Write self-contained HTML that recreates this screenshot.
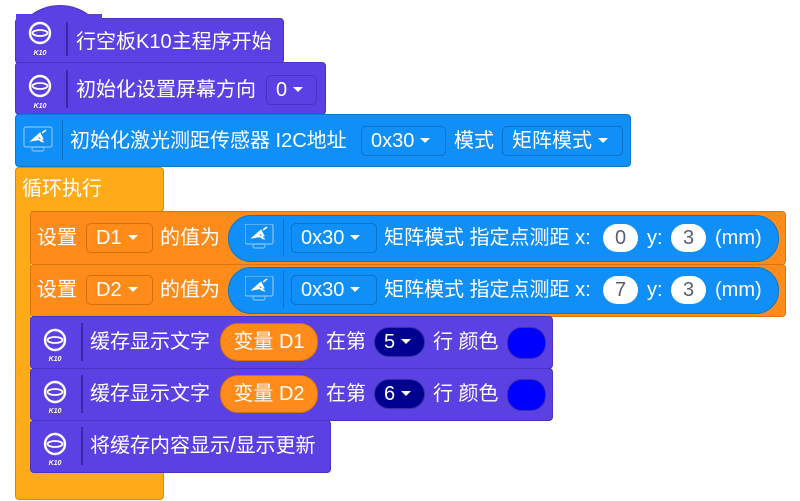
<!DOCTYPE html>
<html><head><meta charset="utf-8"><style>
body{margin:0;width:800px;height:501px;background:#fff;position:relative;overflow:hidden;font-family:"Liberation Sans","Noto Sans CJK SC",sans-serif;font-size:20px;color:#fff}
.a{position:absolute}
.b{position:absolute;border-radius:4px}
.p{background:#5b40e4;border:1px solid #4a33c4}
.bl{background:#0f8ff7;border:1px solid #0b78d0}
.o{background:#ff8c1a;border:1px solid #db7410}
.lp{background:#ffab19;border:1px solid #cf8b17}
.t{position:absolute;white-space:nowrap;line-height:20px}
.dd{position:absolute;border-radius:5px;box-sizing:border-box;line-height:28px;white-space:nowrap;padding-left:9px}
.dp{border:1px solid #4733c2;background:#5b40e4}
.db{border:1px solid #0b72c8;background:#0f8ff7}
.do{border:1px solid #d6700f;background:#ff8c1a}
.tri{display:inline-block;width:0;height:0;border-left:5px solid transparent;border-right:5px solid transparent;border-top:5px solid #fff;vertical-align:middle;margin-left:6px;position:relative;top:-1px}
.sep{position:absolute;width:2px;background:#3a28a8}
.sepb{position:absolute;width:1px;background:#0a6cc0}
.wo{position:absolute;background:#fff;border-radius:15px;color:#575e75;text-align:center;line-height:28px;height:28px}
</style></head><body>

<div class="a p" style="left:15px;top:5px;width:88px;height:40px;border-radius:50% 50% 0 0/100% 100% 0 0;border-bottom:none"></div>
<div class="b p" style="left:15px;top:18px;width:267px;height:44px"></div>
<div class="a" style="left:16px;top:14px;width:86px;height:10px;background:#5b40e4"></div>

<div class="b p" style="left:15px;top:62px;width:309px;height:51px"></div>
<div class="b bl" style="left:15px;top:114px;width:614px;height:51px"></div>

<div class="b lp" style="left:15px;top:167px;width:147px;height:43px"></div>
<div class="a" style="left:15px;top:200px;width:15px;height:280px;background:#ffab19;border-left:1px solid #cf8b17"></div>
<div class="b lp" style="left:15px;top:470px;width:147px;height:29px;border-top:none;border-radius:0 0 4px 4px"></div>

<div class="b o" style="left:30px;top:211px;width:754px;height:52px"></div>
<div class="b o" style="left:30px;top:264px;width:754px;height:51px"></div>
<div class="b p" style="left:30px;top:316px;width:521px;height:51px"></div>
<div class="b p" style="left:30px;top:368px;width:521px;height:51px"></div>
<div class="b p" style="left:30px;top:420px;width:299px;height:51px"></div>

<svg class="a" style="left:0;top:0" width="800" height="501">
<defs>
<g id="k"><ellipse cx="0" cy="0" rx="10" ry="10" fill="none" stroke="#fff" stroke-width="2.4"/><ellipse cx="0" cy="0" rx="7.5" ry="3" fill="none" stroke="#fff" stroke-width="1.8"/></g>
<g id="ic"><rect x="0" y="0" width="28" height="20" rx="2" fill="none" stroke="#7fc2ff" stroke-width="1.3"/><path d="M7 14 L16 6 L19 12 Z M14 9 a6 6 0 0 0 6 6" fill="#fff" stroke="#fff" stroke-width="1"/><line x1="18" y1="6" x2="22" y2="3" stroke="#fff" stroke-width="1.5"/><rect x="8" y="20" width="12" height="4" rx="2" fill="none" stroke="#7fc2ff" stroke-width="1.2"/></g>
</defs>
<use href="#k" x="40" y="33"/><text x="40" y="55" font-size="7" font-style="italic" font-weight="bold" fill="#fff" text-anchor="middle" font-family="Liberation Sans">K10</text>
<use href="#k" x="40" y="86"/><text x="40" y="108" font-size="7" font-style="italic" font-weight="bold" fill="#fff" text-anchor="middle" font-family="Liberation Sans">K10</text>
<use href="#k" x="55" y="340"/><text x="55" y="361" font-size="7" font-style="italic" font-weight="bold" fill="#fff" text-anchor="middle" font-family="Liberation Sans">K10</text>
<use href="#k" x="55" y="392"/><text x="55" y="413" font-size="7" font-style="italic" font-weight="bold" fill="#fff" text-anchor="middle" font-family="Liberation Sans">K10</text>
<use href="#k" x="55" y="444"/><text x="55" y="465" font-size="7" font-style="italic" font-weight="bold" fill="#fff" text-anchor="middle" font-family="Liberation Sans">K10</text>
<use href="#ic" x="24" y="127"/>
</svg>
<div class="sep" style="left:66px;top:22px;height:34px"></div>
<div class="sep" style="left:66px;top:70px;height:38px"></div>
<div class="sepb" style="left:62px;top:120px;height:40px"></div>
<div class="sep" style="left:81px;top:323px;height:38px"></div>
<div class="sep" style="left:81px;top:375px;height:38px"></div>
<div class="sep" style="left:81px;top:427px;height:38px"></div>

<div class="t" style="left:76px;top:32px">行空板K10主程序开始</div>
<div class="t" style="left:76px;top:80px">初始化设置屏幕方向</div>
<div class="dd dp" style="left:266px;top:75px;width:51px;height:30px">0<span class="tri"></span></div>

<div class="t" style="left:70px;top:131px">初始化激光测距传感器 I2C地址</div>
<div class="dd db" style="left:361px;top:126px;width:85px;height:30px">0x30<span class="tri"></span></div>
<div class="t" style="left:454px;top:131px">模式</div>
<div class="dd db" style="left:502px;top:126px;width:121px;height:30px">矩阵模式<span class="tri"></span></div>

<div class="t" style="left:22px;top:179px">循环执行</div>

<div class="t" style="left:37px;top:228px">设置</div>
<div class="dd do" style="left:86px;top:223px;width:67px;height:30px">D1<span class="tri"></span></div>
<div class="t" style="left:160px;top:228px">的值为</div>
<div class="a bl" style="left:228px;top:215px;width:549px;height:45px;border-radius:23px"></div>
<svg class="a" style="left:245px;top:224px" width="30" height="26"><use href="#ic"/></svg>
<div class="sepb" style="left:283px;top:219px;height:37px"></div>
<div class="dd db" style="left:291px;top:223px;width:86px;height:30px">0x30<span class="tri"></span></div>
<div class="t" style="left:384px;top:228px">矩阵模式 指定点测距 x:</div>
<div class="wo" style="left:603px;top:224px;width:35px">0</div>
<div class="t" style="left:647px;top:228px">y:</div>
<div class="wo" style="left:671px;top:224px;width:35px">3</div>
<div class="t" style="left:715px;top:228px">(mm)</div>

<div class="t" style="left:37px;top:280px">设置</div>
<div class="dd do" style="left:86px;top:275px;width:67px;height:30px">D2<span class="tri"></span></div>
<div class="t" style="left:160px;top:280px">的值为</div>
<div class="a bl" style="left:228px;top:267px;width:549px;height:45px;border-radius:23px"></div>
<svg class="a" style="left:245px;top:276px" width="30" height="26"><use href="#ic"/></svg>
<div class="sepb" style="left:283px;top:271px;height:37px"></div>
<div class="dd db" style="left:291px;top:275px;width:86px;height:30px">0x30<span class="tri"></span></div>
<div class="t" style="left:384px;top:280px">矩阵模式 指定点测距 x:</div>
<div class="wo" style="left:603px;top:276px;width:35px">7</div>
<div class="t" style="left:647px;top:280px">y:</div>
<div class="wo" style="left:671px;top:276px;width:35px">3</div>
<div class="t" style="left:715px;top:280px">(mm)</div>

<div class="t" style="left:90px;top:332px">缓存显示文字</div>
<div class="a" style="left:220px;top:323px;width:96px;height:36px;border-radius:18px;background:#ff8c1a;border:1px solid #d6700f;line-height:36px;text-align:center;white-space:nowrap">变量 D1</div>
<div class="t" style="left:326px;top:332px">在第</div>
<div class="dd" style="left:374px;top:327px;width:51px;height:30px;border-radius:15px;background:#000090;border:1px solid #3b2fa0">5<span class="tri"></span></div>
<div class="t" style="left:433px;top:332px">行 颜色</div>
<div class="a" style="left:507px;top:327px;width:37px;height:30px;border-radius:15px;background:#0000ff;border:1px solid #3a30b0"></div>

<div class="t" style="left:90px;top:384px">缓存显示文字</div>
<div class="a" style="left:220px;top:375px;width:96px;height:36px;border-radius:18px;background:#ff8c1a;border:1px solid #d6700f;line-height:36px;text-align:center;white-space:nowrap">变量 D2</div>
<div class="t" style="left:326px;top:384px">在第</div>
<div class="dd" style="left:374px;top:379px;width:51px;height:30px;border-radius:15px;background:#000090;border:1px solid #3b2fa0">6<span class="tri"></span></div>
<div class="t" style="left:433px;top:384px">行 颜色</div>
<div class="a" style="left:507px;top:379px;width:37px;height:30px;border-radius:15px;background:#0000ff;border:1px solid #3a30b0"></div>

<div class="t" style="left:90px;top:436px">将缓存内容显示/显示更新</div>
</body></html>
